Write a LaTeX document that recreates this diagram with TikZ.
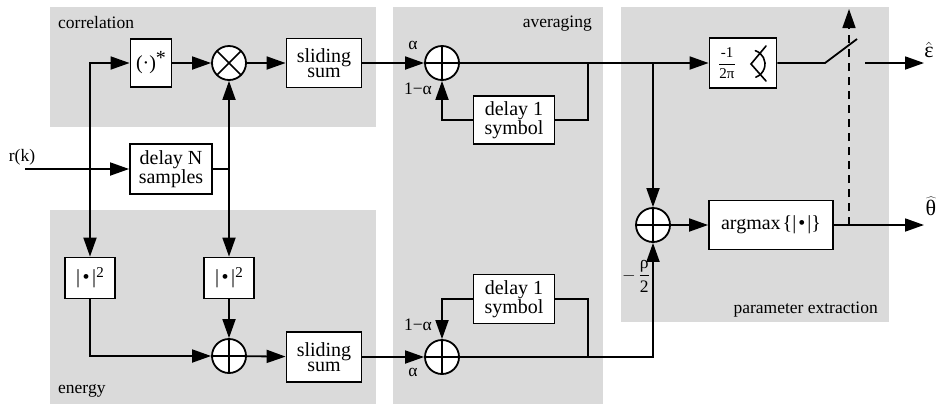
\RequirePackage{fix-cm}
\documentclass[tikz,border=0pt]{standalone}
\usepackage{fontspec}
\setmainfont{Liberation Serif}
\usetikzlibrary{arrows.meta}
\definecolor{panel}{RGB}{218,218,218}
\tikzset{
  lw/.style={line width=1.8pt},
  arr/.style={lw,-{Triangle[length=19pt,width=13pt]}},
  blk/.style={draw,lw,fill=white,inner sep=0pt,align=center,font=\fontsize{20}{16}\selectfont},
  sumc/.style={circle,draw,lw,fill=white,minimum size=34pt,inner sep=0pt,
    path picture={\draw[line width=1.5pt] (path picture bounding box.north)--(path picture bounding box.south)
      (path picture bounding box.west)--(path picture bounding box.east);}},
  mulc/.style={circle,draw,lw,fill=white,minimum size=34pt,inner sep=0pt,
    path picture={\draw[line width=1.5pt] (path picture bounding box.north west)--(path picture bounding box.south east)
      (path picture bounding box.north east)--(path picture bounding box.south west);}},
  lbl/.style={font=\fontsize{17.5}{20}\selectfont,inner sep=0pt},
  glyph/.style={line width=1.6pt,line cap=round},
}
\newcommand{\absq}{|\kern2.5pt•\kern2.5pt|\raisebox{6pt}{\fontsize{15}{15}\selectfont 2}}
\begin{document}
\begin{tikzpicture}[x=1pt,y=-1pt]
\useasboundingbox (0,0) rectangle (936,405);
% panels
\fill[panel] (50,7) rectangle (376,127);
\fill[panel] (50,210) rectangle (376,404);
\fill[panel] (393,7) rectangle (603,404);
\fill[panel] (621,7) rectangle (889,322);
% panel labels
\node[lbl,anchor=base west] (lcor) at (58,28) {correlation};
\node[lbl,anchor=base west] (lene) at (58,393) {energy};
\node[lbl,anchor=base east] (lavg) at (592,27) {averaging};
\node[lbl,anchor=base east] (lpar) at (878,313) {parameter extraction};
% blocks
\node[blk,minimum width=41pt,minimum height=48pt] (conj) at (151,63) {(·)\raisebox{5pt}{*}};
\node[mulc] (mult) at (229,63) {};
\node[blk,minimum width=75pt,minimum height=49pt,font=\fontsize{20}{14.5}\selectfont] (ssa) at (324,63) {sliding\\sum};
\node[blk,minimum width=82pt,minimum height=50pt] (dN) at (171,169) {delay N\\samples};
\node[blk,minimum width=50pt,minimum height=41pt] (absa) at (90,278) {\absq};
\node[blk,minimum width=50pt,minimum height=41pt] (absb) at (229,278) {\absq};
\node[sumc] (plE) at (229,356) {};
\node[blk,minimum width=75pt,minimum height=50pt,font=\fontsize{20}{14.5}\selectfont] (ssb) at (324,357) {sliding\\sum};
\node[sumc] (plA) at (442,63) {};
\node[blk,minimum width=81pt,minimum height=48pt,font=\fontsize{20}{15.5}\selectfont] (dA) at (514,120) {delay 1\\symbol};
\node[sumc] (plB) at (442,357) {};
\node[blk,minimum width=81pt,minimum height=49pt,font=\fontsize{20}{15.5}\selectfont] (dB) at (514,299) {delay 1\\symbol};
\node[blk,minimum width=67pt,minimum height=50pt] (ang) at (743,63) {};
\node[inner sep=0pt,font=\fontsize{15}{15}\selectfont] (angf) at (727,63) {$\displaystyle\frac{\mbox{-1}}{\mbox{2π}}$};
\node[sumc] (plP) at (653,225) {};
\node[blk,minimum width=124pt,minimum height=49pt] (am) at (771,225) {argmax\kern2pt\{|\kern2pt•\kern2pt|\}};
% angle glyph
\coordinate (angv) at (751,64);
\coordinate (angu) at (766,46);
\coordinate (angd) at (766,81);
\draw[glyph] (angu) -- (angv) -- (angd);
\draw[glyph] (angv) ++(-72:14) arc[start angle=-72,end angle=70,radius=14];
% small labels
\node[lbl] (rk) at (22,157) {r(k)};
\node[lbl] (a1) at (413,45) {α};
\node[lbl] (b1) at (418,89) {1−α};
\node[lbl] (b2) at (418,325) {1−α};
\node[lbl] (a2) at (413,372) {α};
\node[lbl] (rho) at (636,276) {$-\,\displaystyle\frac{\mbox{ρ}}{\mbox{2}}$};
\node[lbl,font=\fontsize{22}{22}\selectfont] (eps) at (929,50) {$\hat{\mbox{ε}}$};
\node[lbl,font=\fontsize{22}{22}\selectfont] (tht) at (931,206) {$\widehat{\mbox{θ}}$};
% coordinates
\coordinate (rin) at (25,169);
\coordinate (j1) at (90,169);
\coordinate (j2) at (229,169);
\coordinate (fa) at (588,63);
\coordinate (pa) at (653,63);
\coordinate (fb) at (588,357);
\coordinate (pb) at (653,357);
\coordinate (sw1) at (825,63);
\coordinate (sw2) at (857,39);
\coordinate (eo) at (865,63);
\coordinate (ep) at (924,63);
\coordinate (th) at (924,225);
\coordinate (dsb) at (849,225);
\coordinate (dst) at (849,9);
% connectors
\draw[arr] (rin) -- (dN);
\draw[lw] (dN.east) -- (j2);
\draw[arr] (j1) |- (conj.west);
\draw[arr] (j1) -- (absa.north);
\draw[arr] (conj) -- (mult);
\draw[arr] (mult) -- (ssa);
\draw[arr] (j2) -- (mult.south);
\draw[arr] (j2) -- (absb.north);
\draw[arr] (absa.south) |- (plE.west);
\draw[arr] (absb) -- (plE);
\draw[arr] (plE) -- (ssb);
\draw[arr] (ssa) -- (plA);
\draw[arr] (plA) -- (ang);
\draw[lw] (fa) |- (dA.east);
\draw[arr] (dA.west) -| (plA.south);
\draw[arr] (pa) -- (plP.north);
\draw[arr] (ssb) -- (plB);
\draw[arr] (plB.east) -- (pb) -- (plP.south);
\draw[lw] (fb) |- (dB.east);
\draw[arr] (dB.west) -| (plB.north);
\draw[arr] (plP) -- (am);
\draw[arr] (am.east) -- (th);
\draw[lw] (ang.east) -- (sw1) -- (sw2);
\draw[arr] (eo) -- (ep);
\draw[arr,line width=1.5pt,dash pattern=on 8pt off 6pt] (dsb) -- (dst);
\end{tikzpicture}
\end{document}
